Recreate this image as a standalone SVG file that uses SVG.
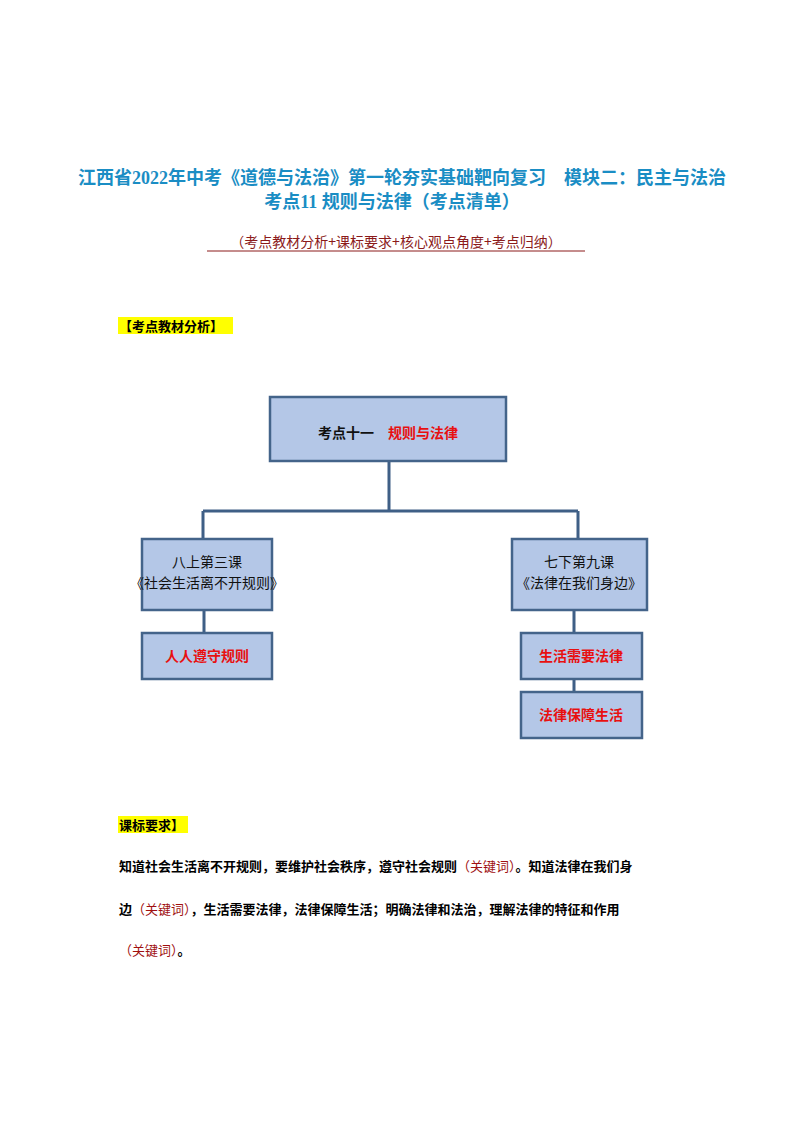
<svg xmlns="http://www.w3.org/2000/svg" width="794" height="1123" viewBox="0 0 794 1123">
<style>
.t{font-family:"Liberation Serif","Noto Sans CJK SC",serif;font-weight:bold;fill:#1a8dc4;font-size:18px}
.box{fill:#b4c7e7;stroke:#44648a;stroke-width:2.5}
.n{font-family:"Noto Sans CJK SC",sans-serif;font-size:14px;fill:#111;text-anchor:middle}
.r{fill:#e81010;font-weight:bold}
.b{font-family:"Liberation Serif","Noto Sans CJK SC",serif;font-size:13px;font-weight:bold;fill:#000}
.k{fill:#a01010;font-weight:normal}
.line{stroke:#3f5f86;stroke-width:3;fill:none}
</style>
<rect width="794" height="1123" fill="#fff"/>
<text class="t" x="402" y="184" text-anchor="middle">江西省2022年中考《道德与法治》第一轮夯实基础靶向复习　模块二：民主与法治</text>
<text class="t" x="392" y="208" text-anchor="middle">考点11  规则与法律（考点清单）</text>
<text x="396" y="247" text-anchor="middle" font-family="Noto Sans CJK SC,sans-serif" font-size="14" fill="#8b1a1a">（考点教材分析+课标要求+核心观点角度+考点归纳）</text>
<line x1="207" y1="251" x2="585" y2="251" stroke="#8b1a1a" stroke-width="1"/>
<rect x="118" y="317" width="115" height="17" fill="#ffff00"/>
<text class="b" x="119" y="331">【考点教材分析】</text>
<g id="connectors">
<path class="line" d="M389 461V511M203 511H578M203 511V539M578 511V539M204 610V633M574 610V633M574 679V692"/>
</g>
<g id="n0"><rect class="box" x="270" y="397" width="236" height="64"/>
<text class="n" x="388" y="438" font-size="21" font-weight="bold">考点十一　<tspan class="r">规则与法律</tspan></text></g>
<g id="n1"><rect class="box" x="142" y="539" width="130" height="71"/>
<text class="n" x="207" y="567">八上第三课</text><text class="n" x="207" y="588">《社会生活离不开规则》</text></g>
<g id="n2"><rect class="box" x="512" y="539" width="135" height="71"/>
<text class="n" x="579" y="567">七下第九课</text><text class="n" x="579" y="588">《法律在我们身边》</text></g>
<g id="n3"><rect class="box" x="142" y="633" width="130" height="46"/>
<text class="n r" x="207" y="661">人人遵守规则</text></g>
<g id="n4"><rect class="box" x="521" y="633" width="121" height="46"/>
<text class="n r" x="581" y="661">生活需要法律</text></g>
<g id="n5"><rect class="box" x="521" y="692" width="121" height="46"/>
<text class="n r" x="581" y="720">法律保障生活</text></g>
<rect x="118" y="816" width="70" height="17" fill="#ffff00"/>
<text class="b" x="119" y="830">课标要求】</text>
<text class="b" x="119" y="871">知道社会生活离不开规则，要维护社会秩序，遵守社会规则<tspan class="k">（关键词）</tspan>。知道法律在我们身</text>
<text class="b" x="119" y="914">边<tspan class="k">（关键词）</tspan>，生活需要法律，法律保障生活；明确法律和法治，理解法律的特征和作用</text>
<text class="b" x="119" y="955"><tspan class="k">（关键词）</tspan>。</text>
</svg>
